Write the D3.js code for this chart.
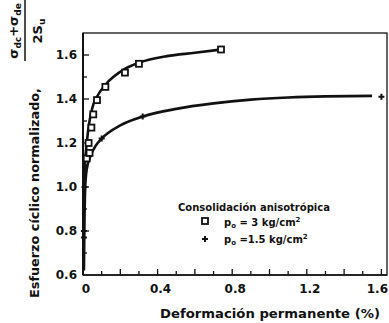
<!DOCTYPE html>
<html>
<head>
<meta charset="utf-8">
<script src="https://cdn.jsdelivr.net/npm/d3@7"></script>
<style>
  body { margin: 0; background: #fff; }
  svg { display: block; font-family: "DejaVu Sans", sans-serif; }
  text { fill: #111; }
</style>
</head>
<body>
<svg width="389" height="323"></svg>
<script>
// markers
var squareX = [0.02, 0.035, 0.03, 0.045, 0.055, 0.075, 0.12, 0.225, 0.30, 0.74];
var squareY = [1.13, 1.155, 1.20, 1.27, 1.33, 1.395, 1.455, 1.52, 1.56, 1.625];
var plusX = [0.005, 0.005, 0.008, 0.10, 0.32, 1.60];
var plusY = [0.77, 0.80, 1.00, 1.22, 1.32, 1.41];

// hand drawn fit curves
var upperX = [0.003, 0.01, 0.02, 0.035, 0.05, 0.075, 0.12, 0.22, 0.30, 0.45, 0.60, 0.74];
var upperY = [0.95, 1.10, 1.20, 1.30, 1.36, 1.41, 1.465, 1.535, 1.565, 1.595, 1.61, 1.625];
var lowerX = [0.005, 0.008, 0.012, 0.02, 0.04, 0.07, 0.10, 0.20, 0.32, 0.50, 0.70, 0.90, 1.10, 1.30, 1.55];
var lowerY = [0.62, 0.85, 1.00, 1.08, 1.14, 1.19, 1.22, 1.28, 1.32, 1.355, 1.38, 1.397, 1.407, 1.412, 1.414];

var xTickLabels = [0, 0.4, 0.8, 1.2, 1.6];
var yTickLabels = [0.6, 0.8, 1.0, 1.2, 1.4, 1.6];

var svg = d3.select("svg");

var x = d3.scaleLinear().domain([0, 1.63]).range([83, 387]);
var y = d3.scaleLinear().domain([0.6, 1.7]).range([275, 33]);

function zip(a, b) {
  return a.map(function (v, i) { return [v, b[i]]; });
}

// frame
svg.append("rect")
  .attr("x", x(0)).attr("y", y(1.7))
  .attr("width", x(1.63) - x(0)).attr("height", y(0.6) - y(1.7))
  .attr("fill", "none").attr("stroke", "#111").attr("stroke-width", 1.3);
// heavier left and bottom axis
svg.append("line").attr("x1", x(0)).attr("x2", x(0)).attr("y1", y(1.7)).attr("y2", y(0.6))
  .attr("stroke", "#111").attr("stroke-width", 2);
svg.append("line").attr("x1", x(0)).attr("x2", x(1.63)).attr("y1", y(0.6)).attr("y2", y(0.6))
  .attr("stroke", "#111").attr("stroke-width", 1.6);

// inward ticks
var xt = d3.range(1, 17).map(function (i) { return i / 10; });
svg.append("g").selectAll("line").data(xt).enter().append("line")
  .attr("x1", function (d) { return x(d); })
  .attr("x2", function (d) { return x(d); })
  .attr("y1", y(0.6))
  .attr("y2", function (d, i) { return y(0.6) - (i % 2 ? 6 : 4); })
  .attr("stroke", "#111").attr("stroke-width", 1.3);

var yt = d3.range(7, 17).map(function (i) { return i / 10; });
svg.append("g").selectAll("line").data(yt).enter().append("line")
  .attr("x1", x(0))
  .attr("x2", function (d, i) { return x(0) + (i % 2 ? 6 : 4); })
  .attr("y1", function (d) { return y(d); })
  .attr("y2", function (d) { return y(d); })
  .attr("stroke", "#111").attr("stroke-width", 1.3);

// tick labels (last one kept inside the page)
svg.append("g").selectAll("text").data(xTickLabels).enter().append("text")
  .attr("x", function (d) { return Math.min(x(d) + 3, 370); })
  .attr("y", 293)
  .attr("text-anchor", "middle")
  .attr("font-size", 12)
  .attr("font-weight", "bold")
  .text(function (d) { return d === 0 ? "0" : d3.format(".1f")(d); })
  .filter(function (d) { return d === 1.6; })
  .attr("text-anchor", "end")
  .attr("x", 388);

svg.append("g").selectAll("text").data(yTickLabels).enter().append("text")
  .attr("x", 77)
  .attr("y", function (d) { return y(d) + 4; })
  .attr("text-anchor", "end")
  .attr("font-size", 12)
  .attr("font-weight", "bold")
  .text(function (d) { return d3.format(".1f")(d); });

// curves
var line = d3.line()
  .x(function (d) { return x(d[0]); })
  .y(function (d) { return y(d[1]); })
  .curve(d3.curveMonotoneX);

svg.append("path").datum(zip(upperX, upperY)).attr("d", line)
  .attr("fill", "none").attr("stroke", "#111").attr("stroke-width", 2.6);
svg.append("path").datum(zip(lowerX, lowerY)).attr("d", line)
  .attr("fill", "none").attr("stroke", "#111").attr("stroke-width", 2.6);

// markers
svg.append("g").selectAll("rect").data(zip(squareX, squareY)).enter().append("rect")
  .attr("x", function (d) { return x(d[0]) - 3; })
  .attr("y", function (d) { return y(d[1]) - 3; })
  .attr("width", 6).attr("height", 6)
  .attr("fill", "#fff").attr("stroke", "#111").attr("stroke-width", 1.8);

var plus = d3.symbol().type(d3.symbolCross).size(20);
svg.append("g").selectAll("path").data(zip(plusX, plusY)).enter().append("path")
  .attr("transform", function (d) { return "translate(" + x(d[0]) + "," + y(d[1]) + ")"; })
  .attr("d", plus)
  .attr("fill", "#111");

// legend
svg.append("text").attr("x", 178).attr("y", 211)
  .attr("font-size", 10).attr("font-weight", "bold")
  .attr("textLength", 152).attr("lengthAdjust", "spacingAndGlyphs")
  .text("Consolidación anisotrópica");

svg.append("rect").attr("x", 202).attr("y", 218).attr("width", 6).attr("height", 6)
  .attr("fill", "#fff").attr("stroke", "#111").attr("stroke-width", 1.8);
var l1 = svg.append("text").attr("x", 224).attr("y", 226).attr("font-size", 10).attr("font-weight", "bold");
l1.append("tspan").text("p");
l1.append("tspan").attr("font-size", 7).attr("dy", 2).text("o");
l1.append("tspan").attr("dy", -2).text("  =  3 kg/cm");
l1.append("tspan").attr("font-size", 7).attr("dy", -4).text("2");

svg.append("path").attr("transform", "translate(205,239)").attr("d", plus).attr("fill", "#111");
var l2 = svg.append("text").attr("x", 224).attr("y", 243).attr("font-size", 10).attr("font-weight", "bold");
l2.append("tspan").text("p");
l2.append("tspan").attr("font-size", 7).attr("dy", 2).text("o");
l2.append("tspan").attr("dy", -2).text("  =1.5 kg/cm");
l2.append("tspan").attr("font-size", 7).attr("dy", -4).text("2");

// x axis title
svg.append("text").attr("x", 160).attr("y", 318)
  .attr("font-size", 13).attr("font-weight", "bold")
  .attr("textLength", 220).attr("lengthAdjust", "spacingAndGlyphs")
  .text("Deformación permanente (%)");

// y axis title
svg.append("text")
  .attr("transform", "translate(39,298) rotate(-90)")
  .attr("font-size", 13).attr("font-weight", "bold")
  .attr("textLength", 210).attr("lengthAdjust", "spacingAndGlyphs")
  .text("Esfuerzo cíclico normalizado,");

var frac = svg.append("g").attr("transform", "translate(0,31) rotate(-90)");
var num = frac.append("text").attr("x", 0).attr("y", 18)
  .attr("text-anchor", "middle").attr("font-size", 13).attr("font-weight", "bold");
num.append("tspan").text("σ");
num.append("tspan").attr("font-size", 9).attr("dy", 3).text("dc");
num.append("tspan").attr("dy", -3).text("+σ");
num.append("tspan").attr("font-size", 9).attr("dy", 3).text("de");
frac.append("line").attr("x1", -30).attr("x2", 31).attr("y1", 25).attr("y2", 25)
  .attr("stroke", "#111").attr("stroke-width", 1.5);
var den = frac.append("text").attr("x", 0).attr("y", 42)
  .attr("text-anchor", "middle").attr("font-size", 13).attr("font-weight", "bold");
den.append("tspan").text("2S");
den.append("tspan").attr("font-size", 9).attr("dy", 3).text("u");
</script>
</body>
</html>
